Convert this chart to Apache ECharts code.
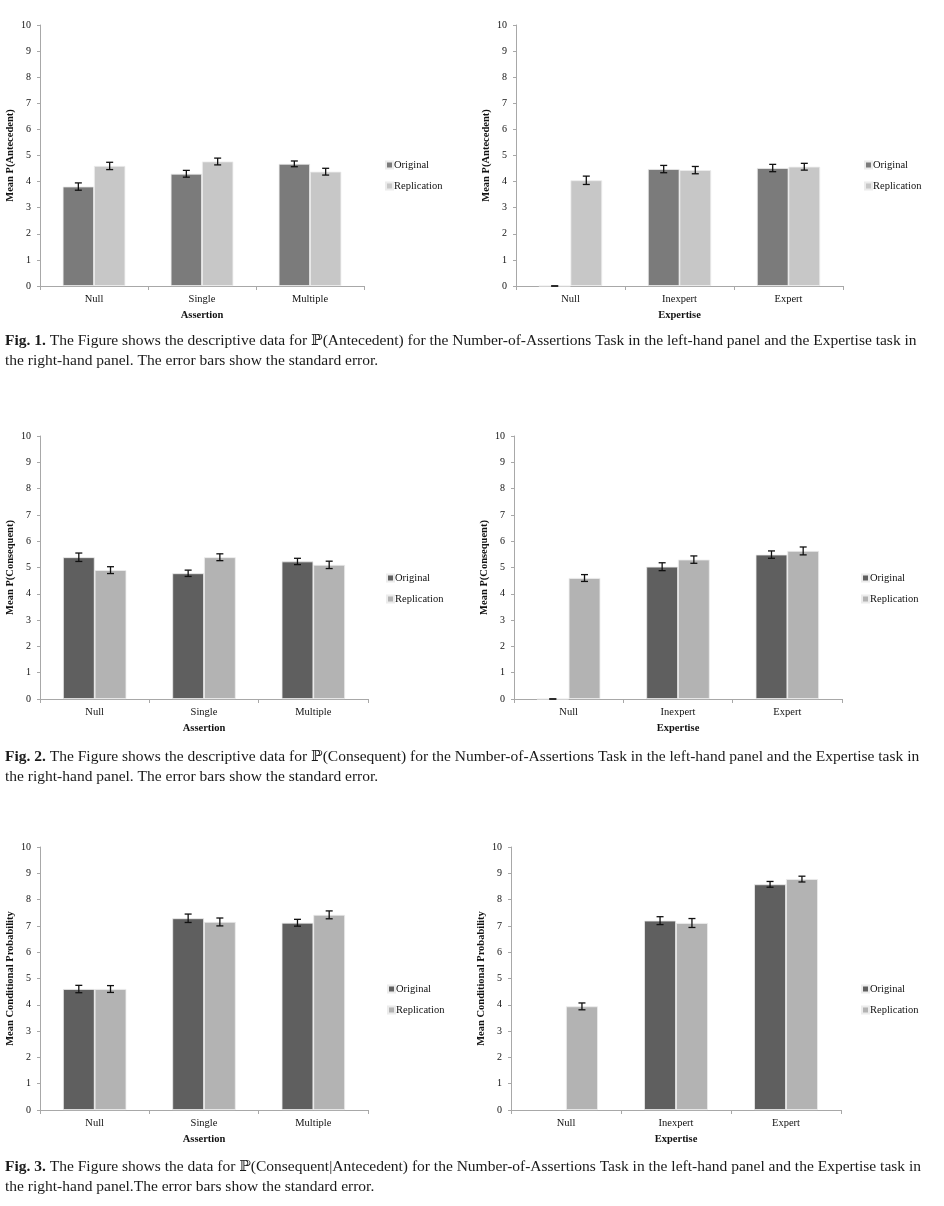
<!DOCTYPE html>
<html>
<head>
<meta charset="utf-8">
<style>
  html, body { margin: 0; padding: 0; background: #ffffff; }
  #chart { width: 944px; height: 1206px; }
</style>
<script src="https://cdn.jsdelivr.net/npm/echarts@6/dist/echarts.min.js"></script>
</head>
<body>
<div id="chart"></div>
<script>
// ---------- DATA ----------
const assertionCats = ['Null', 'Single', 'Multiple'];
const expertiseCats = ['Null', 'Inexpert', 'Expert'];
const seriesNames = ['Original', 'Replication'];
const yTicks = [0, 1, 2, 3, 4, 5, 6, 7, 8, 9, 10];

// Fig 1 – P(Antecedent)
const antAssertOrig = [3.81, 4.30, 4.68];
const antAssertOrigSE = [0.14, 0.13, 0.11];
const antAssertRep = [4.60, 4.77, 4.38];
const antAssertRepSE = [0.14, 0.13, 0.13];
const antExpertOrig = [0, 4.48, 4.52];
const antExpertOrigSE = [0, 0.14, 0.14];
const antExpertRep = [4.05, 4.44, 4.57];
const antExpertRepSE = [0.16, 0.14, 0.13];

// Fig 2 – P(Consequent)
const conAssertOrig = [5.39, 4.78, 5.23];
const conAssertOrigSE = [0.16, 0.12, 0.12];
const conAssertRep = [4.90, 5.39, 5.10];
const conAssertRepSE = [0.13, 0.13, 0.14];
const conExpertOrig = [0, 5.03, 5.49];
const conExpertOrigSE = [0, 0.15, 0.14];
const conExpertRep = [4.60, 5.30, 5.63];
const conExpertRepSE = [0.13, 0.14, 0.15];

// Fig 3 – P(Consequent|Antecedent)
const condAssertOrig = [4.60, 7.29, 7.12];
const condAssertOrigSE = [0.14, 0.16, 0.13];
const condAssertRep = [4.60, 7.15, 7.42];
const condAssertRepSE = [0.13, 0.15, 0.15];
const condExpertOrig = [null, 7.20, 8.58];
const condExpertOrigSE = [null, 0.15, 0.11];
const condExpertRep = [3.94, 7.11, 8.78];
const condExpertRepSE = [0.13, 0.17, 0.11];

const captions = [
  ['{b|Fig. 1.} The Figure shows the descriptive data for \u2119(Antecedent) for the Number-of-Assertions Task in the left-hand panel and the Expertise task in',
   'the right-hand panel. The error bars show the standard error.'],
  ['{b|Fig. 2.} The Figure shows the descriptive data for \u2119(Consequent) for the Number-of-Assertions Task in the left-hand panel and the Expertise task in',
   'the right-hand panel. The error bars show the standard error.'],
  ['{b|Fig. 3.} The Figure shows the data for \u2119(Consequent|Antecedent) for the Number-of-Assertions Task in the left-hand panel and the Expertise task in',
   'the right-hand panel.The error bars show the standard error.']
];

// ---------- LAYOUT / STYLE ----------
const SERIF = "'Liberation Serif', 'Times New Roman', 'DejaVu Serif', serif";
const GAP = 0.42;
const lightPal = ['#7b7b7b', '#c7c7c7'];
const darkPal = ['#5f5f5f', '#b3b3b3'];
const CAP_FS = 15.5;

const panels = [
  { grid: { left: 40, top: 25, width: 324, height: 261 }, cats: assertionCats, xName: 'Assertion', yName: 'Mean P(Antecedent)',
    orig: antAssertOrig, origSE: antAssertOrigSE, rep: antAssertRep, repSE: antAssertRepSE, pal: lightPal, legend: { left: 380, top: 154 } },
  { grid: { left: 516, top: 25, width: 327, height: 261 }, cats: expertiseCats, xName: 'Expertise', yName: 'Mean P(Antecedent)',
    orig: antExpertOrig, origSE: antExpertOrigSE, rep: antExpertRep, repSE: antExpertRepSE, pal: lightPal, legend: { left: 859, top: 154 } },
  { grid: { left: 40, top: 436, width: 328, height: 263 }, cats: assertionCats, xName: 'Assertion', yName: 'Mean P(Consequent)',
    orig: conAssertOrig, origSE: conAssertOrigSE, rep: conAssertRep, repSE: conAssertRepSE, pal: darkPal, legend: { left: 381, top: 567 } },
  { grid: { left: 514, top: 436, width: 328, height: 263 }, cats: expertiseCats, xName: 'Expertise', yName: 'Mean P(Consequent)',
    orig: conExpertOrig, origSE: conExpertOrigSE, rep: conExpertRep, repSE: conExpertRepSE, pal: darkPal, legend: { left: 856, top: 567 } },
  { grid: { left: 40, top: 847, width: 328, height: 263 }, cats: assertionCats, xName: 'Assertion', yName: 'Mean Conditional Probability',
    orig: condAssertOrig, origSE: condAssertOrigSE, rep: condAssertRep, repSE: condAssertRepSE, pal: darkPal, legend: { left: 382, top: 978 } },
  { grid: { left: 511, top: 847, width: 330, height: 263 }, cats: expertiseCats, xName: 'Expertise', yName: 'Mean Conditional Probability',
    orig: condExpertOrig, origSE: condExpertOrigSE, rep: condExpertRep, repSE: condExpertRepSE, pal: darkPal, legend: { left: 856, top: 978 } }
];
const captionTops = [331, 747, 1157];

function errorRenderer(which) {
  return function (params, api) {
    const yv = api.value(1);
    const e = api.value(2);
    if (yv == null || isNaN(yv)) return;
    const xi = api.value(0);
    const c = api.coord([xi, yv]);
    const band = api.size([1, 0])[0];
    const bw = band * (1 - GAP) / 2;
    const x = c[0] + (which === 0 ? -bw / 2 : bw / 2);
    const top = api.coord([xi, yv + e])[1];
    const bot = api.coord([xi, yv - e])[1];
    const cap = 3.5;
    const st = { stroke: '#111', lineWidth: 1.3 };
    return {
      type: 'group',
      children: [
        { type: 'line', shape: { x1: x, y1: top, x2: x, y2: bot }, style: st },
        { type: 'line', shape: { x1: x - cap, y1: top, x2: x + cap, y2: top }, style: st },
        { type: 'line', shape: { x1: x - cap, y1: bot, x2: x + cap, y2: bot }, style: st }
      ]
    };
  };
}

const grid = [], xAxis = [], yAxis = [], series = [], legend = [], graphic = [];
panels.forEach((p, i) => {
  grid.push(p.grid);
  xAxis.push({
    type: 'category', gridIndex: i, data: p.cats,
    name: p.xName, nameLocation: 'middle', nameGap: 24,
    nameTextStyle: { fontFamily: SERIF, fontWeight: 'bold', fontSize: 10.5, color: '#111' },
    axisLine: { lineStyle: { color: '#a8a8a8', width: 1 } },
    axisTick: { show: true, length: 4, lineStyle: { color: '#a8a8a8' } },
    axisLabel: { fontFamily: SERIF, fontSize: 10.5, color: '#111', margin: 8 },
    splitLine: { show: false }
  });
  yAxis.push({
    type: 'value', gridIndex: i, min: yTicks[0], max: yTicks[yTicks.length - 1], interval: 1,
    name: p.yName, nameLocation: 'middle', nameGap: 24, nameRotate: 90,
    nameTextStyle: { fontFamily: SERIF, fontWeight: 'bold', fontSize: 10.5, color: '#111' },
    axisLine: { show: true, lineStyle: { color: '#a8a8a8', width: 1 } },
    axisTick: { show: true, length: 3, lineStyle: { color: '#a8a8a8' } },
    axisLabel: { fontFamily: SERIF, fontSize: 10, color: '#111', margin: 9 },
    splitLine: { show: false }
  });
  const vals = [p.orig, p.rep];
  const ses = [p.origSE, p.repSE];
  [0, 1].forEach(k => {
    series.push({
      type: 'bar', name: seriesNames[k], xAxisIndex: i, yAxisIndex: i,
      data: vals[k], barGap: '0%', barCategoryGap: (GAP * 100) + '%',
      itemStyle: { color: p.pal[k], borderColor: '#ececec', borderWidth: 0.8 },
      emphasis: { disabled: true }, z: 2
    });
  });
  [0, 1].forEach(k => {
    series.push({
      type: 'custom', name: seriesNames[k] + ' SE', xAxisIndex: i, yAxisIndex: i,
      renderItem: errorRenderer(k),
      data: vals[k].map((v, j) => [j, v, ses[k][j]]),
      encode: { x: 0, y: 1 }, z: 5, silent: true
    });
  });
  legend.push({
    orient: 'vertical', left: p.legend.left, top: p.legend.top,
    itemWidth: 7, itemHeight: 7, itemGap: 9, icon: 'rect',
    textStyle: { fontFamily: SERIF, fontSize: 10.5, color: '#111', lineHeight: 12, padding: [0, 0, 0, -4] },
    data: seriesNames.map((n, k) => ({ name: n, itemStyle: { color: p.pal[k] } })),
    selectedMode: false
  });
});

captions.forEach((lines, i) => {
  graphic.push({
    type: 'text', left: 5, top: captionTops[i],
    style: {
      text: lines.join('\n'),
      fontFamily: SERIF, fontSize: CAP_FS, lineHeight: 20,
      fill: '#1a1a1a',
      rich: { b: { fontFamily: SERIF, fontSize: CAP_FS, fontWeight: 'bold', lineHeight: 20, fill: '#1a1a1a' } }
    }
  });
});

const chart = echarts.init(document.getElementById('chart'), null, { renderer: 'canvas' });
chart.setOption({
  backgroundColor: '#ffffff',
  animation: false,
  grid, xAxis, yAxis, series, legend, graphic
});
</script>
</body>
</html>
